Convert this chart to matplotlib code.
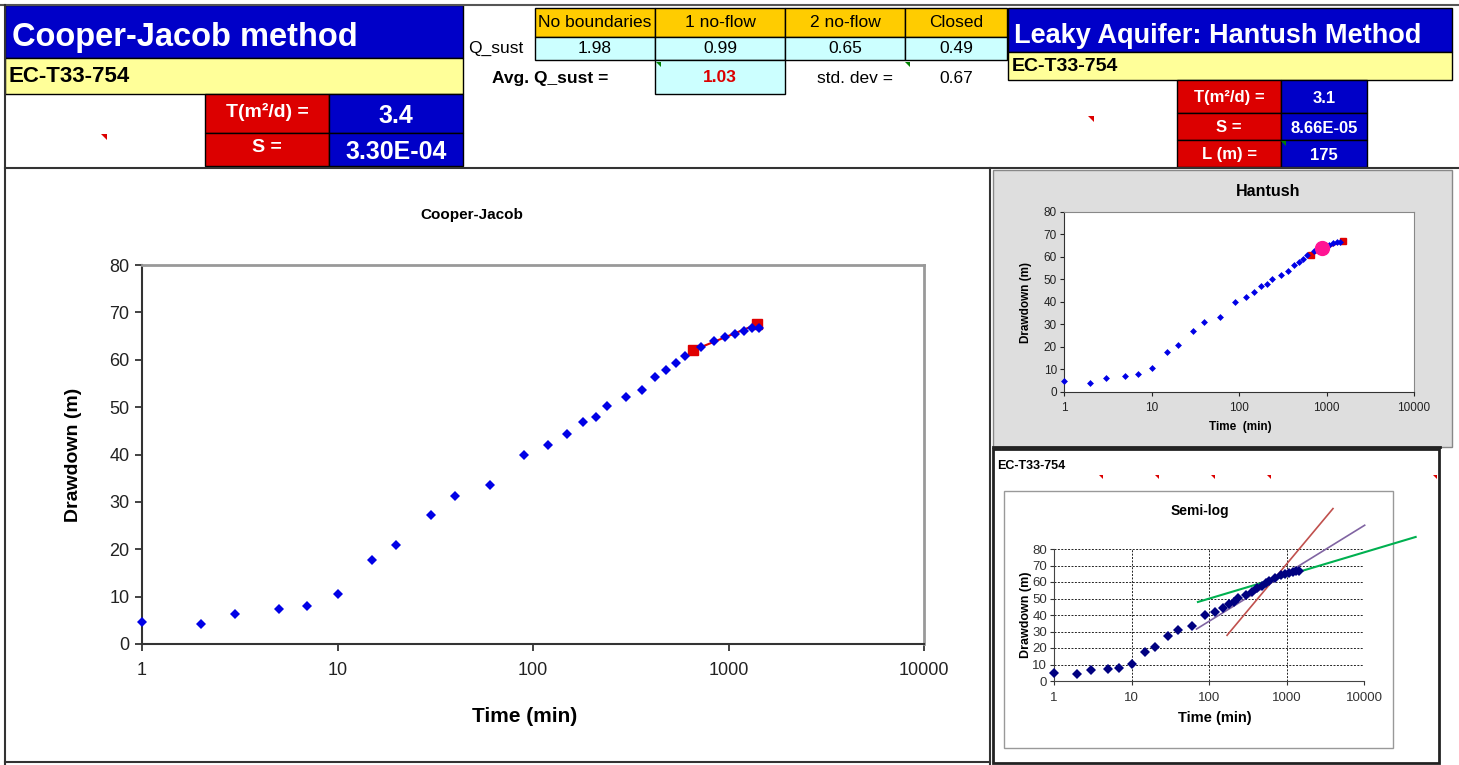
import matplotlib
matplotlib.use('Agg')
import matplotlib.pyplot as plt
from matplotlib.patches import Rectangle, Polygon
from matplotlib.ticker import NullLocator
from matplotlib import font_manager as fm

# ---------------- data ----------------
time_min = [1, 2, 3, 5, 7, 10, 15, 20, 30, 40, 60, 90, 120, 150, 180, 210, 240,
            300, 360, 420, 480, 540, 600, 720, 840, 960, 1080, 1200, 1320, 1440]
drawdown = [4.7, 4.2, 6.4, 7.3, 8.0, 10.5, 17.7, 20.9, 27.2, 31.2, 33.5, 39.9, 42.1,
            44.3, 46.9, 48.0, 50.2, 52.1, 53.7, 56.4, 57.8, 59.3, 60.7, 62.6, 64.0,
            64.7, 65.5, 66.0, 66.8, 66.6]

cj_fit_t = [660, 1400]
cj_fit_s = [62.0, 67.5]

hantush_fit_t = [660, 1530]
hantush_fit_s = [60.9, 67.1]
hantush_match_t = [890]
hantush_match_s = [63.8]

semi_red_t = [171, 3980]
semi_red_s = [27.7, 104.5]
semi_purple_t = [69, 10200]
semi_purple_s = [31.5, 94.4]
semi_green_t = [72, 46400]
semi_green_s = [47.9, 87.3]

scenario_labels = ['No boundaries', '1 no-flow', '2 no-flow', 'Closed']
q_sust = ['1.98', '0.99', '0.65', '0.49']
avg_q = '1.03'
std_dev = '0.67'

cj_params = [('T(m²/d) =', '3.4'), ('S =', '3.30E-04')]
h_params = [('T(m²/d) =', '3.1'), ('S =', '8.66E-05'), ('L (m) =', '175')]

xticks = [1, 10, 100, 1000, 10000]
xticklabels = ['1', '10', '100', '1000', '10000']
yticks = [0, 10, 20, 30, 40, 50, 60, 70, 80]

# ---------------- fonts ----------------
def has_font(name):
    try:
        fm.findfont(fm.FontProperties(family=name), fallback_to_default=False)
        return True
    except Exception:
        return False

SANS = 'Liberation Sans' if has_font('Liberation Sans') else 'DejaVu Sans'
NARROW = 'Liberation Sans Narrow' if has_font('Liberation Sans Narrow') else SANS
plt.rcParams['font.family'] = [SANS, 'DejaVu Sans']

W, H = 1459, 765
fig = plt.figure(figsize=(W / 100, H / 100), dpi=100)
fig.patch.set_facecolor('white')

def px(x0, y0, x1, y1):
    return [x0 / W, 1 - y1 / H, (x1 - x0) / W, (y1 - y0) / H]

bg = fig.add_axes([0, 0, 1, 1])
bg.set_xlim(0, W)
bg.set_ylim(H, 0)
bg.axis('off')

BLUE = '#0000c8'
RED = '#dc0000'
YELLOW = '#ffff99'
ORANGE = '#ffcc00'
CYAN = '#ccffff'

def cell(x0, y0, x1, y1, fc, text='', color='black', size=12, weight='normal',
         ha='center', family=None, ec='black', lw=1.0, pad=5, dy=0):
    bg.add_patch(Rectangle((x0, y0), x1 - x0, y1 - y0, facecolor=fc,
                           edgecolor=ec, linewidth=lw, zorder=1))
    if text:
        if ha == 'center':
            x = (x0 + x1) / 2
        elif ha == 'left':
            x = x0 + pad
        else:
            x = x1 - pad
        bg.text(x, (y0 + y1) / 2 + dy, text, ha=ha, va='center', color=color,
                fontsize=size, fontweight=weight, family=family or NARROW, zorder=2)

def tri(x, y, color, s=6):
    bg.add_patch(Polygon([[x, y], [x + s, y], [x + s, y + s]], closed=True,
                         facecolor=color, edgecolor='none', zorder=3))

# outer frame lines
bg.plot([0, W], [5, 5], color='#555555', lw=1.5)
bg.plot([5, 5], [5, H], color='#333333', lw=1.5)
bg.plot([5, W], [168, 168], color='#333333', lw=1.5)
bg.plot([990, 990], [168, H], color='#333333', lw=1.5)
bg.plot([5, 990], [762, 762], color='#333333', lw=1.5)

# ---------- left header ----------
cell(5, 5, 463, 58, BLUE, 'Cooper-Jacob method', color='white', size=23.5,
     weight='bold', ha='left', family=SANS, pad=7, dy=6)
cell(5, 58, 463, 94, YELLOW, 'EC-T33-754', size=16, weight='bold', ha='left',
     family=SANS, pad=4)
rows = [(94, 133), (133, 166)]
for (lab, val), (y0, y1) in zip(cj_params, rows):
    cell(205, y0, 329, y1, RED, lab, color='white', size=14, weight='bold', dy=-2)
    cell(329, y0, 463, y1, BLUE, val, color='white', size=18, weight='bold', dy=2)
tri(101, 134, RED)

# ---------- middle table ----------
col_edges = [535, 655, 785, 905, 1007]
for i, lab in enumerate(scenario_labels):
    cell(col_edges[i], 8, col_edges[i + 1], 37, ORANGE, lab, size=12.5)
    cell(col_edges[i], 37, col_edges[i + 1], 60, CYAN, q_sust[i], size=12.5)
bg.text(523, 48, 'Q_sust', ha='right', va='center', fontsize=12.5, family=NARROW)
bg.text(550, 78, 'Avg. Q_sust =', ha='center', va='center', fontsize=12.5,
        fontweight='bold', family=NARROW)
cell(655, 60, 785, 94, CYAN, avg_q, color=RED, size=12.5, weight='bold')
bg.text(855, 78, 'std. dev =', ha='center', va='center', fontsize=12.5, family=NARROW)
bg.text(956, 78, std_dev, ha='center', va='center', fontsize=12.5, family=NARROW)
tri(656, 62, '#008000', 5)
tri(905, 62, '#008000', 5)

# ---------- right header ----------
cell(1008, 8, 1452, 52, BLUE, 'Leaky Aquifer: Hantush Method', color='white',
     size=19.5, weight='bold', ha='left', family=SANS, pad=6, dy=6)
cell(1008, 52, 1452, 80, YELLOW, 'EC-T33-754', size=14, weight='bold', ha='left',
     family=SANS, pad=4)
hrows = [(80, 113), (113, 140), (140, 167)]
for (lab, val), (y0, y1) in zip(h_params, hrows):
    cell(1177, y0, 1281, y1, RED, lab, color='white', size=12, weight='bold', dy=1)
    cell(1281, y0, 1367, y1, BLUE, val, color='white', size=12, weight='bold', dy=2)
tri(1088, 116, RED)
tri(1281, 141, '#008000', 5)

# ---------- main Cooper-Jacob chart ----------
bg.text(472, 215, 'Cooper-Jacob', ha='center', va='center', fontsize=11,
        fontweight='bold', family=NARROW)
bg.text(73, 455, 'Drawdown (m)', ha='center', va='center', rotation=90,
        fontsize=14, fontweight='bold', family=SANS)
bg.text(525, 717, 'Time (min)', ha='center', va='center', fontsize=15,
        fontweight='bold', family=SANS)

ax = fig.add_axes(px(142, 265, 924, 644))
ax.set_xscale('log')
ax.set_xlim(1, 10000)
ax.set_ylim(0, 80)
ax.plot(cj_fit_t, cj_fit_s, '-', color='#e00000', lw=1.5, zorder=3,
        marker='s', ms=7, clip_on=False)
ax.plot(time_min, drawdown, 'D', color='#0000e6', ms=5, mew=0, zorder=4,
        clip_on=False)
ax.set_xticks(xticks)
ax.set_xticklabels(xticklabels)
ax.xaxis.set_minor_locator(NullLocator())
ax.set_yticks(yticks)
ax.tick_params(axis='both', direction='out', length=5, width=1.2, labelsize=13,
               colors='#222222', pad=4)
ax.tick_params(axis='x', pad=8)
for sp in ('left', 'bottom'):
    ax.spines[sp].set_color('#333333')
    ax.spines[sp].set_linewidth(1.5)
for sp in ('top', 'right'):
    ax.spines[sp].set_color('#999999')
    ax.spines[sp].set_linewidth(2)

# ---------- Hantush panel ----------
bg.add_patch(Rectangle((993, 170), 459, 277, facecolor='#dedede',
                       edgecolor='#888888', lw=1, zorder=1))
bg.plot([993, 1440], [447, 447], color='#222222', lw=2, zorder=2)
bg.text(1268, 191, 'Hantush', ha='center', va='center', fontsize=11.5,
        fontweight='bold', family=SANS, zorder=2)
bg.text(1026, 302, 'Drawdown (m)', ha='center', va='center', rotation=90,
        fontsize=8.5, fontweight='bold', family=SANS, zorder=2)
bg.text(1240, 427, 'Time  (min)', ha='center', va='center', fontsize=8.5,
        fontweight='bold', family=SANS, zorder=2)

axh = fig.add_axes(px(1064, 212, 1414, 392))
axh.set_facecolor('white')
axh.set_xscale('log')
axh.set_xlim(1, 10000)
axh.set_ylim(0, 80)
axh.plot(hantush_fit_t, hantush_fit_s, '-', color='#e00000', lw=1.5,
         marker='s', ms=4, zorder=3)
axh.plot(time_min, drawdown, 'D', color='#0000e6', ms=3.5, mew=0, zorder=4,
         clip_on=False)
axh.plot(hantush_match_t, hantush_match_s, 'o', color='#ff1493', ms=10, zorder=5)
axh.set_xticks(xticks)
axh.set_xticklabels(xticklabels)
axh.xaxis.set_minor_locator(NullLocator())
axh.set_yticks(yticks)
axh.tick_params(axis='both', direction='out', length=3, labelsize=8.5,
                colors='#222222', pad=2)
axh.tick_params(axis='x', pad=4)
for sp in axh.spines.values():
    sp.set_color('#888888')
for sp in ('left', 'bottom'):
    axh.spines[sp].set_color('#333333')

# ---------- Semi-log panel ----------
bg.add_patch(Rectangle((993, 449), 446, 314, facecolor='white',
                       edgecolor='#222222', lw=2, zorder=1))
bg.text(997, 466, 'EC-T33-754', ha='left', va='center', fontsize=9,
        fontweight='bold', family=SANS, zorder=2)
for xx in (1099, 1155, 1211, 1267, 1433):
    tri(xx, 475, RED, 4)
bg.add_patch(Rectangle((1004, 491), 389, 257, facecolor='white',
                       edgecolor='#999999', lw=1, zorder=1))
bg.text(1200, 511, 'Semi-log', ha='center', va='center', fontsize=10,
        fontweight='bold', family=SANS, zorder=2)
bg.text(1026, 615, 'Drawdown (m)', ha='center', va='center', rotation=90,
        fontsize=9, fontweight='bold', family=SANS, zorder=2)
bg.text(1215, 718, 'Time (min)', ha='center', va='center', fontsize=10.5,
        fontweight='bold', family=SANS, zorder=2)

axs = fig.add_axes(px(1054, 549, 1364, 681))
axs.set_facecolor('none')
axs.set_xscale('log')
axs.set_xlim(1, 10000)
axs.set_ylim(0, 80)
axs.grid(True, which='major', color='#222222', linestyle=(0, (2, 1.5)), lw=0.7)
axs.plot(time_min, drawdown, 'D', color='#000080', ms=5.5, mew=0, zorder=4,
         clip_on=False)
axs.plot(semi_red_t, semi_red_s, '-', color='#c0504d', lw=1.2, clip_on=False, zorder=3)
axs.plot(semi_purple_t, semi_purple_s, '-', color='#8064a2', lw=1.2, clip_on=False, zorder=3)
axs.plot(semi_green_t, semi_green_s, '-', color='#00b050', lw=1.5, clip_on=False, zorder=3)
axs.set_xticks(xticks)
axs.set_xticklabels(xticklabels)
axs.xaxis.set_minor_locator(NullLocator())
axs.set_yticks(yticks)
axs.tick_params(axis='both', direction='out', length=3, labelsize=9.5,
                colors='#333333', pad=2)
axs.tick_params(axis='x', pad=5)
for sp in ('top', 'right'):
    axs.spines[sp].set_visible(False)
for sp in ('left', 'bottom'):
    axs.spines[sp].set_color('#444444')

fig.savefig('out.png', dpi=100, facecolor='white')
